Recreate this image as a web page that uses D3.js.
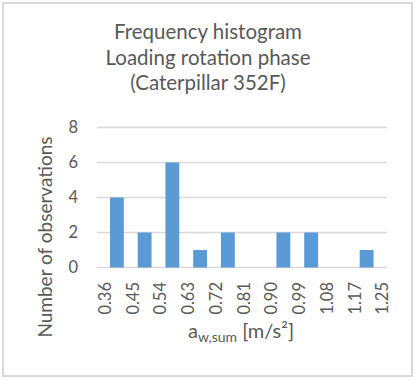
<!DOCTYPE html>
<html>
<head>
<meta charset="utf-8">
<script src="https://cdn.jsdelivr.net/npm/d3@7"></script>
<style>
  body { margin: 0; background: #fff; }
  text { font-family: Lato, "Open Sans", sans-serif; fill: #595959; }
</style>
</head>
<body>
<div class="visArea"></div>
<script>
// Size of the picture
var width = 417;
var height = 381;

// Chart data
var titleLines = ['Frequency histogram', 'Loading rotation phase', '(Caterpillar 352F)'];
var binEdges = ['0.36', '0.45', '0.54', '0.63', '0.72', '0.81', '0.90', '0.99', '1.08', '1.17', '1.25'];
var counts = [4, 2, 6, 1, 2, 0, 2, 2, 0, 1];
var yTicks = [0, 2, 4, 6, 8];

var plotLeft = 97, plotRight = 387;
var plotTop = 127.5, plotBottom = 267.5;

var svg = d3.select('.visArea')
  .append('svg')
  .attr('width', width)
  .attr('height', height);

// chart border
svg.append('rect')
  .attr('x', 3)
  .attr('y', 3)
  .attr('width', 409)
  .attr('height', 373)
  .attr('fill', '#fff')
  .attr('stroke', '#d9d9d9')
  .attr('stroke-width', 2);

// scales
var edgeX = d3.scaleLinear()
  .domain([0, counts.length])
  .range([plotLeft + 6, plotRight - 6.5]);

var x = d3.scaleBand()
  .domain(d3.range(counts.length))
  .range(edgeX.range())
  .paddingInner(0.5)
  .paddingOuter(0.25);

var y = d3.scaleLinear()
  .domain([0, 8])
  .range([plotBottom, plotTop]);

// title
svg.append('text')
  .attr('text-anchor', 'middle')
  .style('font-size', '20.5px')
  .selectAll('tspan')
  .data(titleLines)
  .enter()
  .append('tspan')
  .attr('x', 208)
  .attr('y', (d, i) => 39 + i * 25.5)
  .text(d => d);

// gridlines
svg.append('g')
  .selectAll('line')
  .data(yTicks)
  .enter()
  .append('line')
  .attr('x1', plotLeft)
  .attr('x2', plotRight)
  .attr('y1', d => y(d))
  .attr('y2', d => y(d))
  .attr('stroke', '#d9d9d9')
  .attr('stroke-width', 1.5);

// y tick labels
svg.append('g')
  .selectAll('text')
  .data(yTicks)
  .enter()
  .append('text')
  .attr('x', 78)
  .attr('y', d => y(d))
  .attr('dy', '0.35em')
  .attr('text-anchor', 'end')
  .style('font-size', '16.5px')
  .text(d => d);

// bars
svg.append('g')
  .selectAll('rect')
  .data(counts)
  .enter()
  .append('rect')
  .attr('x', (d, i) => x(i))
  .attr('width', x.bandwidth())
  .attr('y', d => y(d))
  .attr('height', d => y(0) - y(d))
  .attr('fill', '#5b9bd5');

// x tick labels (bin edges), rotated
svg.append('g')
  .selectAll('text')
  .data(binEdges)
  .enter()
  .append('text')
  .attr('transform', (d, i) => 'translate(' + (edgeX(i) + 2) + ',' + 282 + ') rotate(-90)')
  .attr('text-anchor', 'end')
  .attr('dy', '0.35em')
  .style('font-size', '16.5px')
  .text(d => d);

// y axis title
svg.append('text')
  .attr('transform', 'translate(45,237) rotate(-90)')
  .attr('text-anchor', 'middle')
  .attr('dy', '0.35em')
  .style('font-size', '19px')
  .text('Number of observations');

// x axis title with subscript
var xTitle = svg.append('text')
  .attr('x', 241)
  .attr('y', 338)
  .attr('text-anchor', 'middle')
  .style('font-size', '20px');
xTitle.append('tspan').text('a');
xTitle.append('tspan')
  .attr('dy', 4)
  .style('font-size', '14px')
  .text('w,sum');
xTitle.append('tspan')
  .attr('dy', -4)
  .text(' [m/s²]');
</script>
</body>
</html>
